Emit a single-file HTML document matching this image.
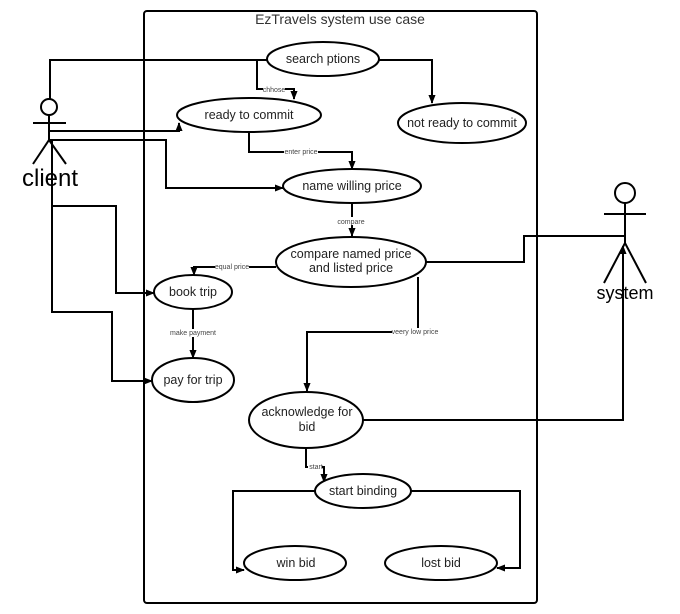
<!DOCTYPE html>
<html><head><meta charset="utf-8"><style>
html,body{margin:0;padding:0;background:#fff;}
svg{display:block;font-family:"Liberation Sans",sans-serif;}
</style></head><body>
<svg width="680" height="614" viewBox="0 0 680 614" xmlns="http://www.w3.org/2000/svg">
<defs>
<marker id="a" viewBox="0 0 10 10" refX="9" refY="5" markerWidth="4.5" markerHeight="4.5" orient="auto-start-reverse">
<path d="M0,1 L10,5 L0,9 z" fill="#000"/></marker>
</defs>
<rect x="144" y="11" width="393" height="592" rx="3" fill="none" stroke="#000" stroke-width="2"/>
<text x="340" y="24" font-size="14" text-anchor="middle" fill="#333">EzTravels system use case</text>

<g fill="none" stroke="#000" stroke-width="2">
<polyline points="50,100 50,60 268,60"/>
<polyline points="257,60 257,89 294,89 294,99" marker-end="url(#a)"/>
<polyline points="379,60 432,60 432,103" marker-end="url(#a)"/>
<polyline points="50,131 179,131 179,123" marker-end="url(#a)"/>
<polyline points="50,140 166,140 166,188 283,188" marker-end="url(#a)"/>
<polyline points="249,132 249,152 352,152 352,169" marker-end="url(#a)"/>
<polyline points="352,203 352,236" marker-end="url(#a)"/>
<polyline points="276,267 194,267 194,275" marker-end="url(#a)"/>
<polyline points="426,262 524,262 524,236 625,236"/>
<polyline points="418,277 418,332 307,332 307,391" marker-end="url(#a)"/>
<polyline points="52,140 52,206 116,206 116,293 154,293" marker-end="url(#a)"/>
<polyline points="52,206 52,312 112,312 112,381 152,381" marker-end="url(#a)"/>
<polyline points="193,309 193,358" marker-end="url(#a)"/>
<polyline points="363,420 623,420 623,246" marker-end="url(#a)"/>
<polyline points="306,448 306,467 324,467 324,482" marker-end="url(#a)"/>
<polyline points="315,491 233,491 233,570 244,570" marker-end="url(#a)"/>
<polyline points="411,491 520,491 520,568 497,568" marker-end="url(#a)"/>
</g>

<g fill="#fff" stroke="#000" stroke-width="2">
<ellipse cx="323" cy="59" rx="56" ry="17"/>
<ellipse cx="249" cy="115" rx="72" ry="17"/>
<ellipse cx="462" cy="123" rx="64" ry="20"/>
<ellipse cx="352" cy="186" rx="69" ry="17"/>
<ellipse cx="351" cy="262" rx="75" ry="25"/>
<ellipse cx="193" cy="292" rx="39" ry="17"/>
<ellipse cx="193" cy="380" rx="41" ry="22"/>
<ellipse cx="306" cy="420" rx="57" ry="28"/>
<ellipse cx="363" cy="491" rx="48" ry="17"/>
<ellipse cx="295" cy="563" rx="51" ry="17"/>
<ellipse cx="441" cy="563" rx="56" ry="17"/>
</g>
<g font-size="12.5" text-anchor="middle" fill="#222">
<text x="323" y="63">search ptions</text>
<text x="249" y="119">ready to commit</text>
<text x="462" y="127">not ready to commit</text>
<text x="352" y="190">name willing price</text>
<text x="351" y="258">compare named price</text>
<text x="351" y="272">and listed price</text>
<text x="193" y="296">book trip</text>
<text x="193" y="384">pay for trip</text>
<text x="307" y="416">acknowledge for</text>
<text x="307" y="431">bid</text>
<text x="363" y="495">start binding</text>
<text x="296" y="567">win bid</text>
<text x="441" y="567">lost bid</text>
</g>
<g font-size="7" text-anchor="middle" fill="#444">
<rect x="263" y="86" width="22" height="7" fill="#fff"/><text x="274" y="92">chhose</text>
<rect x="284" y="148" width="34" height="8" fill="#fff"/><text x="301" y="154">enter price</text>
<rect x="337" y="217" width="30" height="8" fill="#fff"/><text x="351" y="224">compare</text>
<rect x="215" y="263" width="34" height="8" fill="#fff"/><text x="232" y="269">equal price</text>
<rect x="392" y="328" width="46" height="8" fill="#fff"/><text x="415" y="334">veery low price</text>
<rect x="170" y="329" width="46" height="8" fill="#fff"/><text x="193" y="335">make payment</text>
<rect x="308" y="463" width="14" height="8" fill="#fff"/><text x="316" y="469">start</text>
</g>

<g fill="none" stroke="#000" stroke-width="2">
<circle cx="49" cy="107" r="8"/>
<line x1="49" y1="115" x2="49" y2="140"/>
<line x1="33" y1="123" x2="66" y2="123"/>
<polyline points="33,164 49,140 66,164"/>
<circle cx="625" cy="193" r="10"/>
<line x1="625" y1="203" x2="625" y2="243"/>
<line x1="604" y1="214" x2="646" y2="214"/>
<polyline points="604,283 625,243 646,283"/>
</g>
<text x="50" y="186" font-size="24" text-anchor="middle" fill="#000">client</text>
<text x="625" y="299" font-size="18" text-anchor="middle" fill="#000">system</text>
</svg>
</body></html>
